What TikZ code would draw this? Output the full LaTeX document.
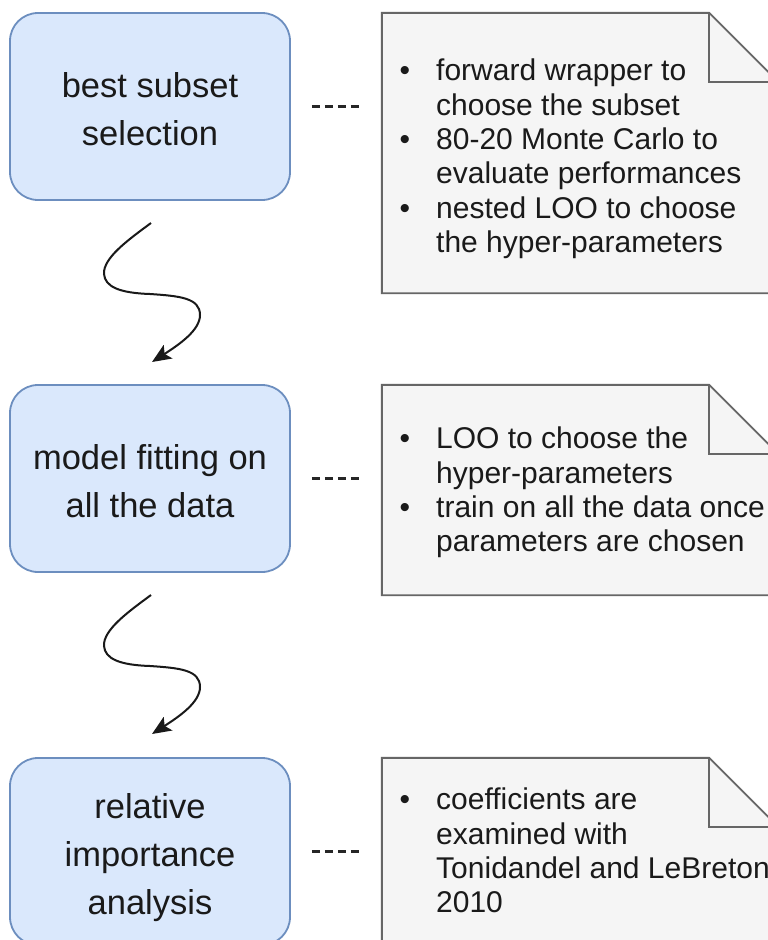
\documentclass[tikz,border=0pt]{standalone}
\usepackage{fontspec}
\setmainfont{Liberation Sans}
\usetikzlibrary{arrows.meta,calc}
\definecolor{boxfill}{HTML}{DAE8FC}
\definecolor{boxline}{HTML}{6C8EBF}
\definecolor{notefill}{HTML}{F5F5F5}
\definecolor{noteline}{HTML}{666666}
\definecolor{txt}{HTML}{1A1A1A}
\newcommand\firstup{\rule{0pt}{29pt}}
\begin{document}
\begin{tikzpicture}[x=1pt,y=-1pt,
  stepbox/.style={draw=boxline, fill=boxfill, line width=1.8pt, rounded corners=28pt,
    minimum width=280pt, minimum height=187pt, align=center, inner sep=0pt, text depth=0pt,
    text=txt, font=\fontsize{34.5}{48}\selectfont},
  notebox/.style={draw=none, minimum width=396pt, inner sep=0pt},
  noteshape/.style={draw=noteline, fill=notefill, line width=1.9pt, line join=miter},
  notetext/.style={align=left, inner sep=0pt, anchor=north west, text=txt,
    font=\fontsize{30}{34.3}\selectfont},
  dashline/.style={draw=black!85, line width=2.1pt, dash pattern=on 8pt off 5pt},
  wavy/.style={draw=black!90, line width=2pt, -{Stealth[length=19pt,width=16pt,inset=4pt]}}
]
\useasboundingbox (0,0) rectangle (768,940);
\clip (0,0) rectangle (768,940);
\fill[white] (0,0) rectangle (768,940);

% left boxes
\node[stepbox] (b1) at (150,106.5) {\firstup best subset\\selection};
\node[stepbox] (b2) at (150,478.5) {\firstup model fitting on\\all the data};
\node[stepbox] (b3) at (150,851.5) {\firstup relative\\importance\\analysis};

% notes
\node[notebox, minimum height=280pt] (n1) at (580,153) {};
\node[notebox, minimum height=210pt] (n2) at (580,490) {};
\node[notebox, minimum height=210pt] (n3) at (580,863) {};
\foreach \n in {n1,n2,n3}{
  \draw[noteshape] (\n.north west) -- ($(\n.north east)+(-69,0)$) -- ($(\n.north east)+(0,69)$)
    -- (\n.south east) -- (\n.south west) -- cycle;
  \draw[noteshape, fill=none] ($(\n.north east)+(-69,0)$) -- ++(0,69) -- ++(69,0);
}

\node[notetext] (t1) at (436,59) {\llap{•\hspace{26pt}}forward wrapper to\\choose the subset\\\llap{•\hspace{26pt}}80-20 Monte Carlo to\\evaluate performances\\\llap{•\hspace{26pt}}nested LOO to choose\\the hyper-parameters};
\node[notetext] (t2) at (436,427) {\llap{•\hspace{26pt}}LOO to choose the\\hyper-parameters\\\llap{•\hspace{26pt}}train on all the data once\\parameters are chosen};
\node[notetext] (t3) at (436,788) {\llap{•\hspace{26pt}}coefficients are\\examined with\\Tonidandel and LeBreton\\2010};

% dashed links
\foreach \b/\n in {b1/n1,b2/n2,b3/n3}{
  \draw[dashline] ($(\b.east)+(21,0)$) -- ($(\b.east -| \n.west)+(-22,0)$);
}

% wavy arrows
\foreach \k/\dy in {1/0,2/372}{
  \begin{scope}[shift={(0,\dy)}]
    \coordinate (a\k s) at (151,223);
    \coordinate (a\k e) at (152,362);
    \draw[wavy] (a\k s) .. controls (128,240) and (103,258) .. (104,274)
      .. controls (105,287) and (120,293) .. (150,294)
      .. controls (180,296) and (200,298) .. (200,315)
      .. controls (200,330) and (180,344) .. (a\k e);
  \end{scope}
}
\end{tikzpicture}
\end{document}
